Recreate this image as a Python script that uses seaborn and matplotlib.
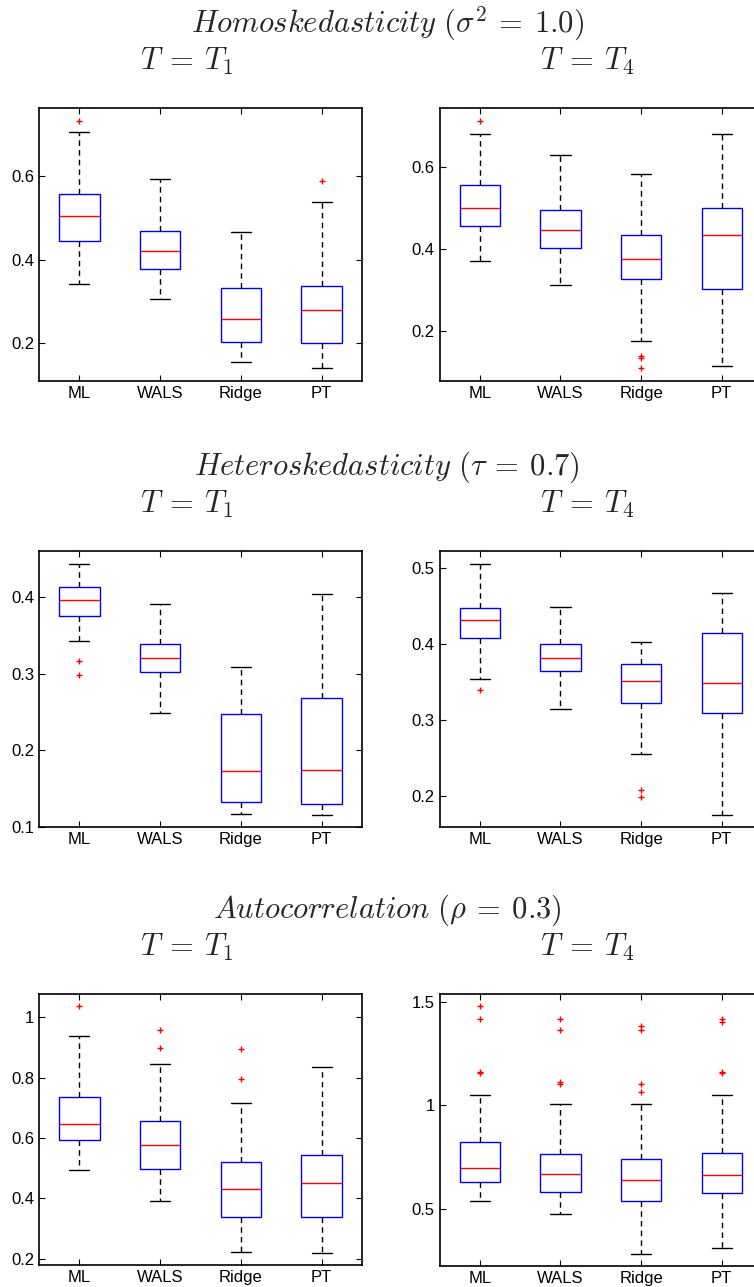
import matplotlib
matplotlib.use('Agg')
import matplotlib.pyplot as plt
import seaborn as sns
import pandas as pd
from matplotlib.ticker import FuncFormatter

methods = ['ML', 'WALS', 'Ridge', 'PT']

# box stats per method: [lower whisker, Q1, median, Q3, upper whisker]
homo_t1 = [[0.343, 0.444, 0.506, 0.558, 0.706],
           [0.305, 0.378, 0.421, 0.470, 0.594],
           [0.154, 0.204, 0.258, 0.332, 0.466],
           [0.140, 0.200, 0.280, 0.337, 0.538]]
homo_t1_out_m = ['ML', 'PT']
homo_t1_out_v = [0.734, 0.588]

homo_t4 = [[0.370, 0.457, 0.500, 0.557, 0.682],
           [0.312, 0.402, 0.447, 0.4955, 0.629],
           [0.174, 0.326, 0.376, 0.433, 0.582],
           [0.114, 0.301, 0.433, 0.499, 0.682]]
homo_t4_out_m = ['ML', 'Ridge', 'Ridge', 'Ridge']
homo_t4_out_v = [0.713, 0.137, 0.134, 0.108]

hetero_t1 = [[0.342, 0.375, 0.396, 0.413, 0.4434],
             [0.249, 0.302, 0.321, 0.339, 0.391],
             [0.1165, 0.1325, 0.173, 0.247, 0.309],
             [0.1157, 0.130, 0.1746, 0.268, 0.404]]
hetero_t1_out_m = ['ML', 'ML']
hetero_t1_out_v = [0.317, 0.298]

hetero_t4 = [[0.3546, 0.408, 0.4315, 0.448, 0.506],
             [0.315, 0.365, 0.382, 0.400, 0.4495],
             [0.2554, 0.3217, 0.352, 0.374, 0.4034],
             [0.175, 0.3085, 0.349, 0.414, 0.467]]
hetero_t4_out_m = ['ML', 'Ridge', 'Ridge']
hetero_t4_out_v = [0.340, 0.207, 0.198]

auto_t1 = [[0.4956, 0.593, 0.645, 0.7344, 0.938],
           [0.3925, 0.4965, 0.576, 0.655, 0.846],
           [0.221, 0.339, 0.431, 0.519, 0.716],
           [0.2177, 0.339, 0.452, 0.5435, 0.835]]
auto_t1_out_m = ['ML', 'WALS', 'WALS', 'Ridge', 'Ridge']
auto_t1_out_v = [1.0365, 0.958, 0.898, 0.896, 0.795]

auto_t4 = [[0.540, 0.633, 0.701, 0.825, 1.05],
           [0.479, 0.584, 0.670, 0.768, 1.008],
           [0.283, 0.542, 0.640, 0.744, 1.008],
           [0.315, 0.577, 0.666, 0.770, 1.05]]
auto_t4_out_m = ['ML'] * 4 + ['WALS'] * 4 + ['Ridge'] * 4 + ['PT'] * 4
auto_t4_out_v = [1.4775, 1.418, 1.162, 1.156,
                 1.416, 1.365, 1.114, 1.104,
                 1.383, 1.363, 1.104, 1.066,
                 1.418, 1.400, 1.162, 1.156]

titles = [r'$Homoskedasticity\ (\sigma^2 \:=\: 1.0)$',
          r'$Heteroskedasticity\ (\tau \:=\: 0.7)$',
          r'$Autocorrelation\ (\rho \:=\: 0.3)$']

sns.set_theme(style='ticks')
plt.rcParams['font.family'] = ['Liberation Sans', 'DejaVu Sans']
plt.rcParams['mathtext.fontset'] = 'cm'

W, H = 754, 1287
fig = plt.figure(figsize=(W / 100, H / 100), dpi=100)


def box_panel(rect, stats, out_m, out_v, ylim, yticks):
    ax = fig.add_axes([rect[0] / W, 1 - rect[3] / H, (rect[2] - rect[0]) / W, (rect[3] - rect[1]) / H])
    df = pd.DataFrame({'method': [m for m in methods for _ in range(5)],
                       'value': [v for s in stats for v in s]})
    sns.boxplot(data=df, x='method', y='value', order=methods, ax=ax,
                whis=(0, 100), width=0.5, fliersize=0, linewidth=1,
                boxprops=dict(facecolor='white', edgecolor='blue'),
                medianprops=dict(color='red'),
                whiskerprops=dict(color='black', linestyle=(0, (4, 3))),
                capprops=dict(color='black'))
    sns.stripplot(x=out_m, y=out_v, order=methods, jitter=False, marker='+',
                  color='red', size=5, linewidth=1, ax=ax)
    ax.set_xlim(-0.5, 3.5)
    ax.set_ylim(*ylim)
    ax.set_yticks(yticks)
    ax.yaxis.set_major_formatter(FuncFormatter(lambda v, p: f'{v:g}'))
    ax.set_xlabel('')
    ax.set_ylabel('')
    ax.tick_params(direction='in', length=4, width=0.8, top=True, right=True,
                   labelsize=12, colors='black')
    for s in ax.spines.values():
        s.set_linewidth(1.2)
        s.set_color('black')
    return ax


# row 1
box_panel((39, 108, 362, 381), homo_t1, homo_t1_out_m, homo_t1_out_v, (0.1096, 0.764), [0.2, 0.4, 0.6])
box_panel((439.5, 108, 762, 381), homo_t4, homo_t4_out_m, homo_t4_out_v, (0.0767, 0.7445), [0.2, 0.4, 0.6])
# row 2
box_panel((39, 551, 362, 827), hetero_t1, hetero_t1_out_m, hetero_t1_out_v, (0.1, 0.46), [0.1, 0.2, 0.3, 0.4])
box_panel((439.5, 551, 762, 827), hetero_t4, hetero_t4_out_m, hetero_t4_out_v, (0.1588, 0.5228), [0.2, 0.3, 0.4, 0.5])
# row 3
box_panel((39, 994, 362, 1265), auto_t1, auto_t1_out_m, auto_t1_out_v, (0.179, 1.0775), [0.2, 0.4, 0.6, 0.8, 1.0])
box_panel((439.5, 994, 762, 1266), auto_t4, auto_t4_out_m, auto_t4_out_v, (0.2267, 1.537), [0.5, 1.0, 1.5])

for r, t in enumerate(titles):
    off = 443 * r
    fig.text(387 / W, 1 - (32 + off) / H, t, ha='center', va='baseline', fontsize=22)
    fig.text(186 / W, 1 - (70 + off) / H, r'$T \:=\: T_1$', ha='center', va='baseline', fontsize=22)
    fig.text(587 / W, 1 - (70 + off) / H, r'$T \:=\: T_4$', ha='center', va='baseline', fontsize=22)

fig.savefig('out.png', dpi=100)
